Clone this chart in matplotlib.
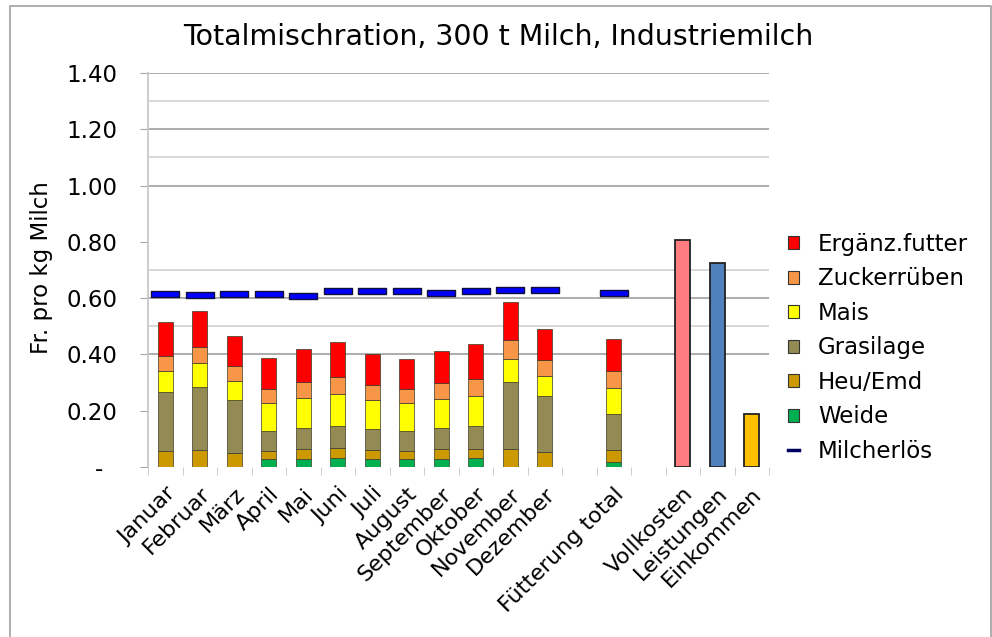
import numpy as np
import matplotlib
matplotlib.use("Agg")
import matplotlib.pyplot as plt
from matplotlib.lines import Line2D
from matplotlib.patches import Patch

plt.rcParams['font.family'] = ['DejaVu Sans']

months = ["Januar", "Februar", "März", "April", "Mai", "Juni", "Juli",
          "August", "September", "Oktober", "November", "Dezember"]
categories = months + ["", "Fütterung total", "", "Vollkosten", "Leistungen", "Einkommen"]
feed_labels = months + ["Fütterung total"]

# Futterkosten, Fr. pro kg Milch (12 Monate + Fütterung total)
weide = [0.000, 0.000, 0.000, 0.027, 0.028, 0.031, 0.028, 0.027, 0.028, 0.031, 0.000, 0.000, 0.018]
heu = [0.056, 0.060, 0.050, 0.031, 0.035, 0.036, 0.032, 0.031, 0.036, 0.034, 0.063, 0.053, 0.042]
grasilage = [0.209, 0.225, 0.188, 0.071, 0.077, 0.080, 0.074, 0.071, 0.075, 0.080, 0.238, 0.198, 0.129]
mais = [0.076, 0.083, 0.069, 0.097, 0.105, 0.111, 0.104, 0.097, 0.104, 0.108, 0.084, 0.073, 0.093]
zucker = [0.053, 0.059, 0.052, 0.052, 0.056, 0.063, 0.052, 0.050, 0.054, 0.061, 0.066, 0.055, 0.059]
ergaenz = [0.122, 0.128, 0.106, 0.110, 0.118, 0.122, 0.113, 0.109, 0.115, 0.122, 0.134, 0.110, 0.113]
milcherloes = [0.615, 0.610, 0.615, 0.615, 0.606, 0.624, 0.624, 0.624, 0.619, 0.624, 0.629, 0.629, 0.619]

summary_labels = ["Vollkosten", "Leistungen", "Einkommen"]
summary_values = [0.806, 0.726, 0.188]

series = [("Weide", weide, "#00B050"),
          ("Heu/Emd", heu, "#CC9900"),
          ("Grasilage", grasilage, "#948A54"),
          ("Mais", mais, "#FFFF00"),
          ("Zuckerrüben", zucker, "#F79646"),
          ("Ergänz.futter", ergaenz, "#FF0000")]
summary_colors = ["#FF7C80", "#4F81BD", "#FFC000"]

fig = plt.figure(figsize=(9.92, 6.37), dpi=100)
ax = fig.add_axes([148/992, 1 - 467/637, (769-148)/992, (467-73)/637])

feed_x = np.array([categories.index(c) for c in feed_labels])
sum_x = np.array([categories.index(c) for c in summary_labels])
w = 0.44

# gridlines as they appear in the picture
for y in [1.4, 1.2, 1.0, 0.6, 0.4]:
    ax.axhline(y, color="#a6a6a6", lw=1.3, zorder=0)
for y in [1.3, 1.1, 0.7, 0.5]:
    ax.axhline(y, color="#d4d4d4", lw=1.3, zorder=0)

bottom = np.zeros(len(feed_x))
for name, vals, col in series:
    vals = np.array(vals)
    ax.bar(feed_x, vals, w, bottom=bottom, color=col, edgecolor="#3a3a2a",
           linewidth=0.5, zorder=2)
    bottom += vals

ax.bar(sum_x, summary_values, w, color=summary_colors, edgecolor="#222222",
       linewidth=1.3, zorder=2)

dash = [(-2.5, -0.5), (2.5, -0.5), (2.5, 0.5), (-2.5, 0.5), (-2.5, -0.5)]
ax.plot(feed_x, milcherloes, linestyle="none", marker=dash, markersize=20,
        markerfacecolor="#0000FF", markeredgecolor="#10103a", markeredgewidth=1,
        zorder=3)

ax.set_xlim(-0.5, len(categories) - 0.5)
ax.set_ylim(0, 1.4)
yt = np.arange(0, 1.41, 0.2)
ax.set_yticks(yt)
ax.set_yticklabels(["-  "] + ["%.2f" % v for v in yt[1:]], fontsize=16.5)
ax.tick_params(axis="y", length=6, color="#a6a6a6", pad=16)

ax.set_xticks(np.arange(len(categories)))
ax.set_xticklabels(categories, fontsize=16, rotation=45, ha="right",
                   rotation_mode="anchor")
ax.set_xticks(np.arange(-0.5, len(categories)), minor=True)
ax.tick_params(axis="x", which="major", length=0, pad=12)
ax.tick_params(axis="x", which="minor", length=6, color="#c8c8c8")

for s in ["top", "right", "bottom"]:
    ax.spines[s].set_visible(False)
ax.spines["left"].set_color("#c8c8c8")
ax.spines["left"].set_linewidth(1.3)

fig.text(0.502, 1 - 37/637, "Totalmischration, 300 t Milch, Industriemilch",
         ha="center", va="center", fontsize=20.5)
fig.text(42/992, 1 - 268/637, "Fr. pro kg Milch", rotation=90,
         ha="center", va="center", fontsize=16.5)

handles = [Patch(facecolor=c, edgecolor="#333333", linewidth=0.8, label=n)
           for n, _, c in reversed(series)]
handles.append(Line2D([0], [0], color="#000060", lw=2.5, label="Milcherlös"))
fig.legend(handles=handles, loc="upper left", bbox_to_anchor=(788/992, 1 - 233/637),
           frameon=False, fontsize=16.5, handlelength=0.5, handleheight=0.5,
           handletextpad=0.8, labelspacing=0.5, borderaxespad=0, borderpad=0)

# chart frame
fig.add_artist(Line2D([10/992, 10/992, 991/992, 991/992],
                      [0, 1 - 6/637, 1 - 6/637, 0],
                      transform=fig.transFigure, color="#a0a0a0", lw=1.2))

fig.savefig("out.png", dpi=100)
